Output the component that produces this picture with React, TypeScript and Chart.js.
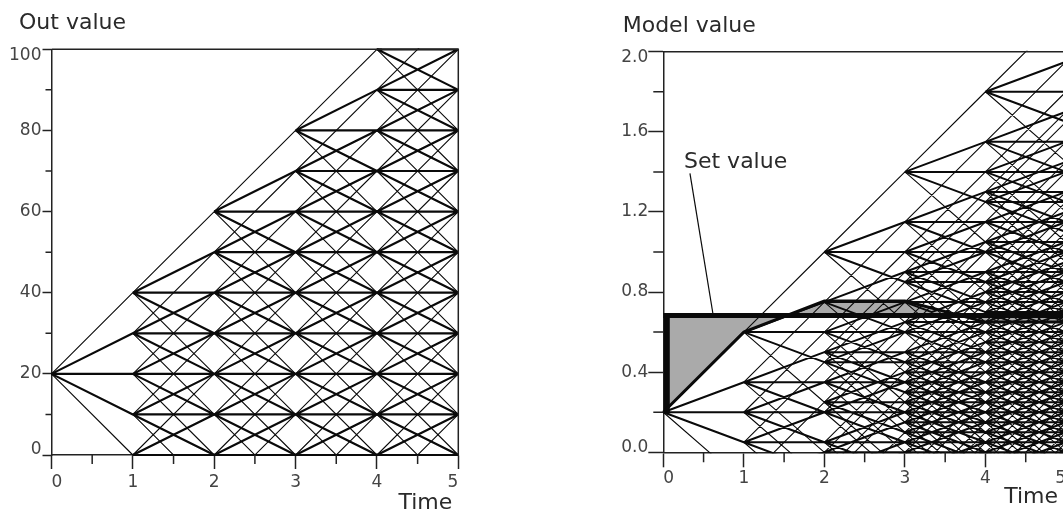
import React, { useEffect, useRef } from 'react';
import { Chart, registerables } from 'chart.js';

Chart.register(...registerables);

// ---------- data ----------
const timeTicks = [0, 1, 2, 3, 4, 5];
const timeLabels = ['0', '1', '2', '3', '4', '5'];
const timeMinorTicks = [0.5, 1.5, 2.5, 3.5, 4.5];

const outTicks = [0, 20, 40, 60, 80, 100];
const outLabels = ['0', '20', '40', '60', '80', '100'];
const outMinorTicks = [10, 30, 50, 70, 90];

const modelTicks = [0, 0.4, 0.8, 1.2, 1.6, 2.0];
const modelLabels = ['0.0', '0.4', '0.8', '1.2', '1.6', '2.0'];
const modelMinorTicks = [0.2, 0.6, 1.0, 1.4, 1.8];

// lattice: start value and the five branch steps per time step
const outStart = 20;
const outSteps = [-20, -10, 0, 10, 20];
const modelStart = 0.2;
const modelSteps = [-0.35, -0.15, 0, 0.15, 0.4];
const stepIsBold = [false, true, true, true, false];

// highlighted model path and set value
const setValue = 0.683;
const modelPathTimes = [0, 1, 2, 3, 4, 5];
const modelPathValues = [0.2, 0.6, 0.755, 0.755, 0.65, 0.65];

// "Set value" annotation
const setNoteText = 'Set value';
const setNoteTime = 0.257;
const setNoteValue = 1.418;
const setLeaderTimes = [0.331, 0.62];
const setLeaderValues = [1.393, setValue];

// ---------- styles ----------
const INK = '#0a0a0a';
const AXIS_INK = '#222';
const TICK_INK = '#444';
const TITLE_INK = '#2a2a2a';
const GRAY = '#aaaaaa';
const TICK_FONT = '17px "DejaVu Sans", sans-serif';
const TITLE_FONT = '22px "DejaVu Sans", sans-serif';

type Pt = { x: number; y: number | null };

function buildLattice(start: number, steps: number[], bold: boolean[], times: number[]) {
  let level: number[] = [start];
  const thick: Pt[] = [];
  const thin: Pt[] = [];
  const seen = new Set<string>();
  for (let i = 0; i < times.length - 1; i++) {
    const next = new Map<string, number>();
    for (const v of level) {
      steps.forEach((s, k) => {
        const w = Math.round((v + s) * 1e6) / 1e6;
        next.set(w.toFixed(6), w);
        const key = i + '|' + v.toFixed(6) + '|' + w.toFixed(6);
        if (seen.has(key)) return;
        seen.add(key);
        const arr = bold[k] ? thick : thin;
        arr.push({ x: times[i], y: v }, { x: times[i + 1], y: w }, { x: times[i + 1], y: null });
      });
    }
    level = Array.from(next.values());
  }
  return { thick, thin };
}

type Decor = {
  title: string; titleX: number; titleY: number;
  xTicks: number[]; xLabels: string[]; xMinor: number[]; xMinorLen: number; xLabelDy: number;
  yTicks: number[]; yLabels: string[]; yMinor: number[]; yMinorLen: number; yLabelDx: number;
  axisTitle: string; axisTitleDx: number; axisTitleDy: number;
  notes: { text: string; x: number; y: number }[];
};

function decorPlugin(d: Decor) {
  return {
    id: 'decor',
    afterDraw(chart: any) {
      const { ctx, chartArea: a } = chart;
      const xs = chart.scales.x;
      const ys = chart.scales.y;
      ctx.save();
      // frame top + right
      ctx.strokeStyle = AXIS_INK;
      ctx.lineWidth = 1.5;
      ctx.beginPath();
      ctx.moveTo(a.left, a.top);
      ctx.lineTo(a.right, a.top);
      ctx.lineTo(a.right, a.bottom);
      ctx.stroke();
      // minor ticks
      ctx.beginPath();
      for (const v of d.xMinor) {
        const p = xs.getPixelForValue(v);
        ctx.moveTo(p, a.bottom);
        ctx.lineTo(p, a.bottom + d.xMinorLen);
      }
      for (const v of d.yMinor) {
        const p = ys.getPixelForValue(v);
        ctx.moveTo(a.left, p);
        ctx.lineTo(a.left - d.yMinorLen, p);
      }
      ctx.stroke();
      // tick labels
      ctx.fillStyle = TICK_INK;
      ctx.font = TICK_FONT;
      ctx.textBaseline = 'middle';
      d.xTicks.forEach((v, i) => {
        const p = xs.getPixelForValue(v);
        ctx.textAlign = i === 0 ? 'left' : i === d.xTicks.length - 1 ? 'right' : 'center';
        ctx.fillText(d.xLabels[i], p, a.bottom + d.xLabelDy);
      });
      ctx.textAlign = 'right';
      d.yTicks.forEach((v, i) => {
        let p = ys.getPixelForValue(v);
        p = Math.min(Math.max(p, a.top + 6), a.bottom - 5);
        ctx.fillText(d.yLabels[i], a.left - d.yLabelDx, p);
      });
      // titles
      ctx.fillStyle = TITLE_INK;
      ctx.font = TITLE_FONT;
      ctx.textBaseline = 'alphabetic';
      ctx.textAlign = 'left';
      ctx.fillText(d.title, d.titleX, d.titleY);
      for (const n of d.notes) {
        ctx.fillText(n.text, xs.getPixelForValue(n.x), ys.getPixelForValue(n.y));
      }
      ctx.textAlign = 'right';
      ctx.fillText(d.axisTitle, a.right - d.axisTitleDx, a.bottom + d.axisTitleDy);
      ctx.restore();
    },
  };
}

function scaleOpts(min: number, max: number, step: number, tickLen: number) {
  return {
    type: 'linear' as const,
    min,
    max,
    ticks: { stepSize: step, display: false },
    grid: {
      display: true,
      drawOnChartArea: false,
      drawTicks: true,
      tickLength: tickLen,
      tickWidth: 1.5,
      tickColor: AXIS_INK,
    },
    border: { display: true, color: AXIS_INK, width: 1.5 },
  };
}

function lineDs(label: string, data: Pt[], width: number, extra: any = {}) {
  return {
    label,
    data,
    borderColor: INK,
    borderWidth: width,
    pointRadius: 0,
    pointHoverRadius: 0,
    tension: 0,
    fill: false,
    spanGaps: false,
    clip: 1,
    ...extra,
  };
}

function leftConfig(): any {
  const tree = buildLattice(outStart, outSteps, stepIsBold, timeTicks);
  return {
    type: 'line',
    data: {
      datasets: [
        lineDs('Out value (main branches)', tree.thick, 2.2),
        lineDs('Out value (outer branches)', tree.thin, 1.1),
      ],
    },
    options: {
      responsive: false,
      animation: false,
      events: [],
      parsing: { xAxisKey: 'x', yAxisKey: 'y' },
      layout: { padding: { left: 42.5, top: 49.3, right: 71.7, bottom: 41 } },
      scales: {
        x: scaleOpts(0, 5, 1, 14),
        y: scaleOpts(0, 100, 20, 9),
      },
      plugins: { legend: { display: false }, tooltip: { enabled: false } },
    },
    plugins: [
      decorPlugin({
        title: 'Out value', titleX: 19, titleY: 29,
        xTicks: timeTicks, xLabels: timeLabels, xMinor: timeMinorTicks, xMinorLen: 9, xLabelDy: 28,
        yTicks: outTicks, yLabels: outLabels, yMinor: outMinorTicks, yMinorLen: 6, yLabelDx: 10,
        axisTitle: 'Time', axisTitleDx: 6, axisTitleDy: 54,
        notes: [],
      }),
    ],
  };
}

function rightConfig(): any {
  const tree = buildLattice(modelStart, modelSteps, stepIsBold, timeTicks);
  return {
    type: 'line',
    data: {
      datasets: [
        lineDs('Set value', timeTicks.map((t) => ({ x: t, y: setValue })), 5, { clip: 3 }),
        lineDs('Model path', modelPathTimes.map((t, i) => ({ x: t, y: modelPathValues[i] })), 3, {
          fill: { target: 0, above: GRAY, below: GRAY },
          backgroundColor: GRAY,
          clip: 2,
        }),
        lineDs('Start edge', [{ x: 0, y: modelStart }, { x: 0, y: setValue }], 13, { clip: 0 }),
        lineDs('Set value leader', setLeaderTimes.map((t, i) => ({ x: t, y: setLeaderValues[i] })), 1.2),
        lineDs('Model value (main branches)', tree.thick, 2),
        lineDs('Model value (outer branches)', tree.thin, 1.1),
      ],
    },
    options: {
      responsive: false,
      animation: false,
      events: [],
      parsing: { xAxisKey: 'x', yAxisKey: 'y' },
      layout: { padding: { left: 118.3, top: 51.7, right: 24, bottom: 42.7 } },
      scales: {
        x: scaleOpts(0, 5, 1, 15),
        y: scaleOpts(0, 2, 0.4, 15),
      },
      plugins: {
        legend: { display: false },
        tooltip: { enabled: false },
        filler: { drawTime: 'beforeDatasetsDraw' },
      },
    },
    plugins: [
      decorPlugin({
        title: 'Model value', titleX: 92.7, titleY: 32.3,
        xTicks: timeTicks, xLabels: timeLabels, xMinor: timeMinorTicks, xMinorLen: 10, xLabelDy: 26,
        yTicks: modelTicks, yLabels: modelLabels, yMinor: modelMinorTicks, yMinorLen: 10, yLabelDx: 15,
        axisTitle: 'Time', axisTitleDx: 8, axisTitleDy: 51,
        notes: [{ text: setNoteText, x: setNoteTime, y: setNoteValue }],
      }),
    ],
  };
}

export default function App() {
  const leftRef = useRef<HTMLCanvasElement>(null);
  const rightRef = useRef<HTMLCanvasElement>(null);
  useEffect(() => {
    const c1 = new Chart(leftRef.current as HTMLCanvasElement, leftConfig());
    const c2 = new Chart(rightRef.current as HTMLCanvasElement, rightConfig());
    return () => {
      c1.destroy();
      c2.destroy();
    };
  }, []);
  return (
    <div
      style={{
        position: 'fixed',
        left: 0,
        top: 0,
        width: '100vw',
        height: 510,
        overflow: 'hidden',
        background: '#fff',
      }}
    >
      <canvas
        ref={leftRef}
        width={530}
        height={510}
        style={{ position: 'absolute', left: 0, top: 0, width: 530, height: 510 }}
      />
      <canvas
        ref={rightRef}
        width={560}
        height={510}
        style={{ position: 'absolute', left: 530, top: 0, width: 560, height: 510 }}
      />
    </div>
  );
}
